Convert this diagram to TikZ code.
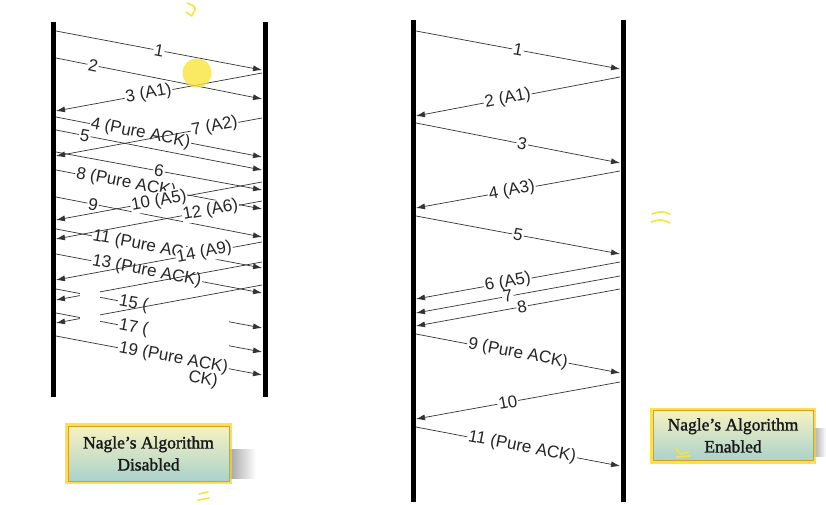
\documentclass[tikz,border=0pt]{standalone}
\usepackage{fontspec}
\setmainfont{Liberation Serif}
\setsansfont{Liberation Sans}
\newfontfamily\boxfont[FakeBold=1.5]{Liberation Serif}
\usetikzlibrary{arrows.meta,calc}
\definecolor{boxtop}{RGB}{248,242,192}
\definecolor{boxbot}{RGB}{170,210,204}
\definecolor{boxrim}{RGB}{252,214,20}
\definecolor{boxedge}{RGB}{214,160,40}
\definecolor{penyellow}{RGB}{248,228,60}
\tikzset{
  lifeline/.style={line width=5pt},
  msgline/.style={line width=0.7pt, draw=black!80},
  msg/.style={msgline, ->},
  lbl/.style={fill=white, inner sep=1pt, sloped, text=black!85,
    font=\sffamily\fontsize{17}{17}\selectfont},
  notebox/.style={draw=boxedge, line width=0.8pt, top color=boxtop, bottom color=boxbot,
    preaction={draw=boxrim, line width=6pt, opacity=0.75},
    align=center, inner sep=0pt, text=black!90, font=\boxfont\fontsize{17.5}{22}\selectfont},
  pen/.style={draw=penyellow, line width=1.6pt, line cap=round}
}
\begin{document}
\begin{tikzpicture}[x=1pt, y=-1pt, >={Latex[length=9pt,width=6pt]}]
\useasboundingbox (0,0) rectangle (826,505);
\coordinate (offLt) at (53,22);  \coordinate (offLb) at (53,397);
\coordinate (offRt) at (265,22); \coordinate (offRb) at (265,397);
\coordinate (onLt) at (413,20);  \coordinate (onLb) at (413,502);
\coordinate (onRt) at (623,20);  \coordinate (onRb) at (623,502);
\draw[lifeline] (offLt) -- (offLb);
\draw[lifeline] (offRt) -- (offRb);
\draw[lifeline] (onLt) -- (onLb);
\draw[lifeline] (onRt) -- (onRb);
% disabled
\foreach \n/\xa/\ya/\xb/\yb/\p/\lab in {
  1/56/31/262/70/0.5/1, 2/56/58/262/99/0.18/2, 3/262/73/56/111/0.55/{3 (A1)},
  4/56/117/262/157/0.41/{4 (Pure ACK)}, 5/56/130/262/170/0.14/5, 6/56/152/262/190/0.5/6,
  7/262/118/56/156/0.23/{7 (A2)}, 8/56/170/262/209/0.34/{8 (Pure ACK)}, 9/56/197/262/237/0.18/9,
  10/262/182/56/220/0.5/{10 (A5)}, 11/56/229/262/268/0.44/{11 (Pure ACK)},
  12/262/201/56/239/0.25/{12 (A6)}, 13/56/254/262/293/0.44/{13 (Pure ACK)},
  14/262/242/56/280/0.28/{14 (A9)}}{
  \coordinate (offA\n) at (\xa,\ya);
  \coordinate (offB\n) at (\xb,\yb);
  \draw[msg] (offA\n) -- (offB\n) node[lbl,pos=\p]{\lab};
}
\coordinate (offA15) at (56,289);  \coordinate (offB15) at (262,328);
\coordinate (offA16) at (262,262); \coordinate (offB16) at (56,300);
\coordinate (offA17) at (56,313);  \coordinate (offB17) at (262,352);
\coordinate (offA18) at (262,285); \coordinate (offB18) at (56,323);
\coordinate (offA19) at (56,336);  \coordinate (offB19) at (262,375);
\draw[msgline] (offA15) -- ($(offA15)!0.3!(offB15)$) node[lbl,pos=1,anchor=west]{15 (};
\draw[msg] ($(offA15)!0.84!(offB15)$) -- (offB15);
\draw[msg] (offA16) -- (offB16);
\draw[msgline] (offA17) -- ($(offA17)!0.3!(offB17)$) node[lbl,pos=1,anchor=west]{17 (};
\draw[msg] ($(offA17)!0.84!(offB17)$) -- (offB17);
\draw[msg] (offA18) -- (offB18);
\fill[white] (80,283) rectangle (100,327);
\draw[msg] (offA19) -- (offB19) node[lbl,pos=0.57]{19 (Pure ACK)};
\node[lbl, fill=none, rotate=-10.5] (offfrag) at (203,380) {CK)};
% enabled
\foreach \n/\xa/\ya/\xb/\yb/\p/\lab in {
  1/416/31/620/69/0.5/1, 2/620/77/416/116/0.55/{2 (A1)}, 3/416/123/620/163/0.52/3,
  4/620/171/416/208/0.53/{4 (A3)}, 5/416/216/620/254/0.5/5, 6/620/262/416/299/0.55/{6 (A5)},
  7/620/276/416/313/0.55/7, 8/620/289/416/326/0.48/8, 9/416/334/620/373/0.5/{9 (Pure ACK)},
  10/620/382/416/419/0.55/10, 11/416/427/620/466/0.52/{11 (Pure ACK)}}{
  \coordinate (onA\n) at (\xa,\ya);
  \coordinate (onB\n) at (\xb,\yb);
  \draw[msg] (onA\n) -- (onB\n) node[lbl,pos=\p]{\lab};
}
% boxes
\shade[left color=black!40, right color=white] (226,449) rectangle (256,478);
\shade[left color=black!40, right color=white] (811,428) rectangle (826,456);
\node[notebox, minimum width=161pt, minimum height=55pt] (offbox) at (148.5,453.5) {Nagle’s Algorithm\\Disabled};
\node[notebox, minimum width=160pt, minimum height=50pt] (onbox) at (733,435.5) {Nagle’s Algorithm\\Enabled};
% pen marks
\fill[penyellow, opacity=0.8] (197,73) circle (14.5);
\draw[pen] (187,3) .. controls (197,7) .. (192,15);
\draw[pen] (186,12) -- (192,16);
\draw[pen] (652,214) .. controls (662,211) .. (670,214);
\draw[pen] (651,222) .. controls (661,219) .. (670,223);
\draw[pen] (199,494) -- (208,492);
\draw[pen] (198,500) -- (209,498);
\draw[pen] (676,448) .. controls (680,455) .. (688,452);
\draw[pen] (677,457) -- (690,456);
\end{tikzpicture}
\end{document}
